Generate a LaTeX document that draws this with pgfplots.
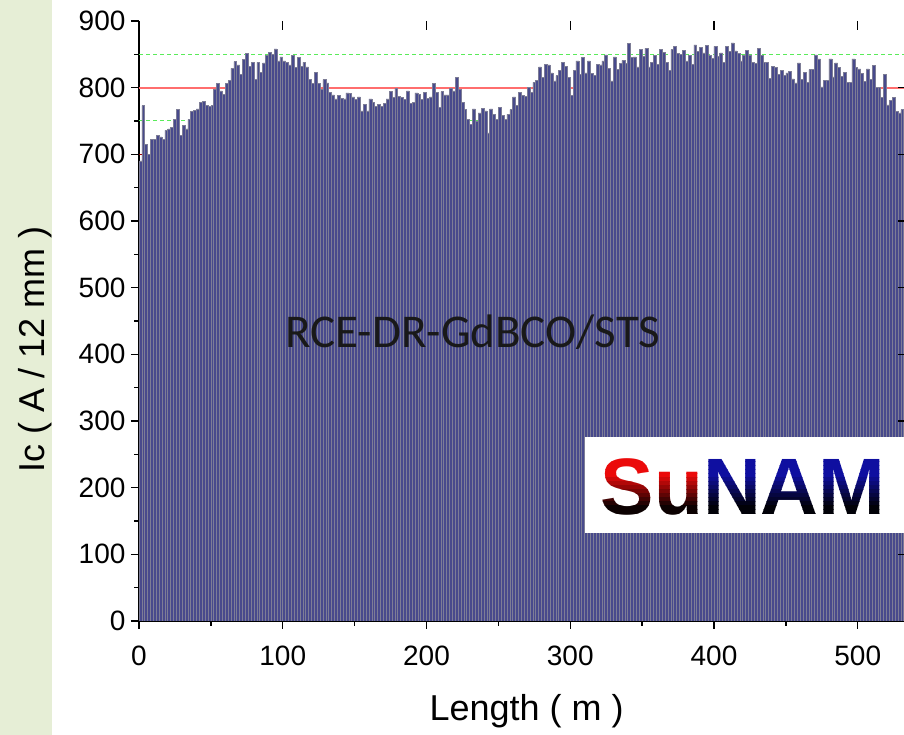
\documentclass[border=0pt]{standalone}
\usepackage{pgfplots}
\pgfplotsset{compat=1.18}
\usepackage{fontspec}
\setmainfont{Liberation Sans}
\newfontfamily\calibri{Carlito}
\definecolor{barblue}{RGB}{72,74,140}
\definecolor{baredge}{RGB}{125,125,150}
\definecolor{stripgreen}{RGB}{230,238,214}
\definecolor{lred}{RGB}{255,110,110}
\definecolor{lgreen}{RGB}{90,235,90}
\definecolor{dred}{RGB}{160,0,0}
\definecolor{logored}{RGB}{235,10,10}
\definecolor{logoblue}{RGB}{15,15,160}
\begin{document}
\begin{tikzpicture}[x=1pt,y=1pt]
\useasboundingbox (0,0) rectangle (904,735);
\fill[stripgreen] (0,0) rectangle (52,735);
\begin{axis}[
  at={(139pt,114pt)}, anchor=south west,
  scale only axis, width=767.6pt, height=600pt,
  xmin=0, xmax=534, ymin=0, ymax=900,
  axis x line*=bottom, axis y line*=left,
  axis line style={line width=1.6pt, black},
  xtick={0,100,...,500}, minor xtick={50,150,...,550},
  ytick={0,100,...,900}, minor ytick={50,150,...,850},
  tick align=outside,
  major tick length=8pt, minor tick length=5pt,
  every tick/.style={black, line width=1.4pt},
  /pgf/number format/assume math mode=true,
  ticklabel style={font=\fontsize{28}{30}\selectfont},
  xticklabel style={yshift=-13pt},
  yticklabel style={xshift=-2pt},
  xlabel={Length ( m )},
  ylabel={Ic ( A / 12 mm )},
  label style={font=\fontsize{36}{40}\selectfont},
  xlabel style={at={(axis description cs:0.505,-0.15)}, anchor=center},
  ylabel style={at={(axis description cs:-0.1355,0.452)}, anchor=center},
  clip=true,
]
\addplot[dred, line width=1pt, forget plot] coordinates {(0,700) (534,700)};
\addplot[lgreen, line width=1pt, dash pattern=on 4pt off 3pt, forget plot] coordinates {(0,750) (534,750)};
\addplot[lgreen, line width=1pt, dash pattern=on 4pt off 3pt, forget plot] coordinates {(0,850) (534,850)};
\addplot[lred, line width=1.8pt, forget plot] coordinates {(0,800) (534,800)};
\addplot[ybar, bar width=2, bar shift=0pt, fill=barblue, draw=baredge, line width=0.6pt] table[row sep=\\] {
x y\\
1 690\\ 3 773\\ 5 715\\ 7 700\\ 9 722\\ 11 722\\ 13 728\\ 15 726\\ 17 722\\ 19 736\\
21 738\\ 23 740\\ 25 752\\ 27 767\\ 29 728\\ 31 743\\ 33 738\\ 35 752\\ 37 764\\ 39 766\\
41 768\\ 43 778\\ 45 779\\ 47 773\\ 49 772\\ 51 773\\ 53 798\\ 55 806\\ 57 795\\ 59 790\\
61 806\\ 63 811\\ 65 829\\ 67 839\\ 69 834\\ 71 820\\ 73 842\\ 75 851\\ 77 832\\ 79 838\\
81 812\\ 83 838\\ 85 823\\ 87 837\\ 89 848\\ 91 853\\ 93 850\\ 95 858\\ 97 840\\ 99 846\\
101 840\\ 103 838\\ 105 834\\ 107 848\\ 109 830\\ 111 845\\ 113 832\\ 115 838\\ 117 831\\ 119 812\\
121 806\\ 123 823\\ 125 806\\ 127 797\\ 129 812\\ 131 807\\ 133 793\\ 135 789\\ 137 783\\ 139 788\\
141 784\\ 143 783\\ 145 792\\ 147 791\\ 149 786\\ 151 782\\ 153 786\\ 155 765\\ 157 775\\ 159 765\\
161 783\\ 163 778\\ 165 772\\ 167 775\\ 169 772\\ 171 776\\ 173 783\\ 175 794\\ 177 785\\ 179 799\\
181 787\\ 183 785\\ 185 782\\ 187 795\\ 189 776\\ 191 778\\ 193 792\\ 195 790\\ 197 782\\ 199 793\\
201 784\\ 203 786\\ 205 806\\ 207 793\\ 209 770\\ 211 794\\ 213 789\\ 215 789\\ 217 799\\ 219 795\\
221 815\\ 223 797\\ 225 778\\ 227 767\\ 229 752\\ 231 745\\ 233 768\\ 235 750\\ 237 762\\ 239 769\\
241 765\\ 243 732\\ 245 768\\ 247 760\\ 249 752\\ 251 770\\ 253 758\\ 255 752\\ 257 760\\ 259 767\\
261 786\\ 263 773\\ 265 793\\ 267 788\\ 269 787\\ 271 800\\ 273 793\\ 275 808\\ 277 811\\ 279 831\\
281 815\\ 283 835\\ 285 834\\ 287 822\\ 289 810\\ 291 818\\ 293 826\\ 295 838\\ 297 832\\ 299 815\\
301 788\\ 303 826\\ 305 840\\ 307 820\\ 309 845\\ 311 822\\ 313 840\\ 315 821\\ 317 818\\ 319 835\\
321 834\\ 323 840\\ 325 849\\ 327 829\\ 329 810\\ 331 846\\ 333 827\\ 335 836\\ 337 841\\ 339 836\\
341 866\\ 343 845\\ 345 846\\ 347 831\\ 349 857\\ 351 847\\ 353 859\\ 355 831\\ 357 838\\ 359 848\\
361 835\\ 363 857\\ 365 853\\ 367 838\\ 369 826\\ 371 857\\ 373 862\\ 375 851\\ 377 850\\ 379 856\\
381 840\\ 383 848\\ 385 835\\ 387 864\\ 389 854\\ 391 860\\ 393 852\\ 395 863\\ 397 848\\ 399 844\\
401 862\\ 403 847\\ 405 852\\ 407 838\\ 409 862\\ 411 854\\ 413 867\\ 415 855\\ 417 851\\ 419 840\\
421 848\\ 423 856\\ 425 849\\ 427 838\\ 429 836\\ 431 859\\ 433 848\\ 435 838\\ 437 838\\ 439 814\\
441 832\\ 443 830\\ 445 820\\ 447 826\\ 449 818\\ 451 822\\ 453 824\\ 455 813\\ 457 807\\ 459 837\\
461 812\\ 463 823\\ 465 808\\ 467 827\\ 469 827\\ 471 849\\ 473 843\\ 475 801\\ 477 811\\ 479 811\\
481 843\\ 483 816\\ 485 837\\ 487 830\\ 489 817\\ 491 823\\ 493 808\\ 495 808\\ 497 843\\ 499 830\\
501 828\\ 503 821\\ 505 809\\ 507 828\\ 509 812\\ 511 833\\ 513 800\\ 515 800\\ 517 785\\ 519 820\\
521 774\\ 523 781\\ 525 785\\ 527 764\\ 529 762\\ 531 767\\ 533 765\\
};
\node[font=\calibri\fontsize{47}{50}\selectfont, text=black!90] at (axis description cs:0.435,0.482) {RCE-DR-GdBCO/STS};
\end{axis}
\begin{axis}[
  at={(139pt,114pt)}, anchor=south west,
  scale only axis, width=767.6pt, height=600pt,
  xmin=0, xmax=534, ymin=0, ymax=900,
  axis x line*=top, axis y line*=right,
  axis line style={draw=none},
  xtick={100,200,...,500}, ytick={100,200,...,800},
  xticklabels={}, yticklabels={},
  tick align=inside, major tick length=9pt,
  every tick/.style={black, line width=1.4pt},
]
\end{axis}
% SuNAM logo box
\fill[white] (585,202) rectangle (906,298);
\foreach \i in {0,...,15} {
  \pgfmathsetmacro\ytop{281-\i*4}
  \pgfmathsetmacro\ybot{\ytop-4}
  \pgfmathtruncatemacro\mix{\i<6 ? 100 : max(5,100-(\i-5)*12)}
  \begin{scope}
    \clip (585,\ybot) rectangle (906,\ytop);
    \node[font=\fontsize{80}{80}\selectfont\bfseries, inner sep=0pt] at (743,248)
      {\textcolor{logored!\mix!black}{Su}\textcolor{logoblue!\mix!black}{NAM}};
  \end{scope}
}
\begin{scope}
  \clip (585,202) rectangle (906,217);
  \node[font=\fontsize{80}{80}\selectfont\bfseries, inner sep=0pt, text=black!75] at (743,248) {SuNAM};
\end{scope}
\end{tikzpicture}
\end{document}
